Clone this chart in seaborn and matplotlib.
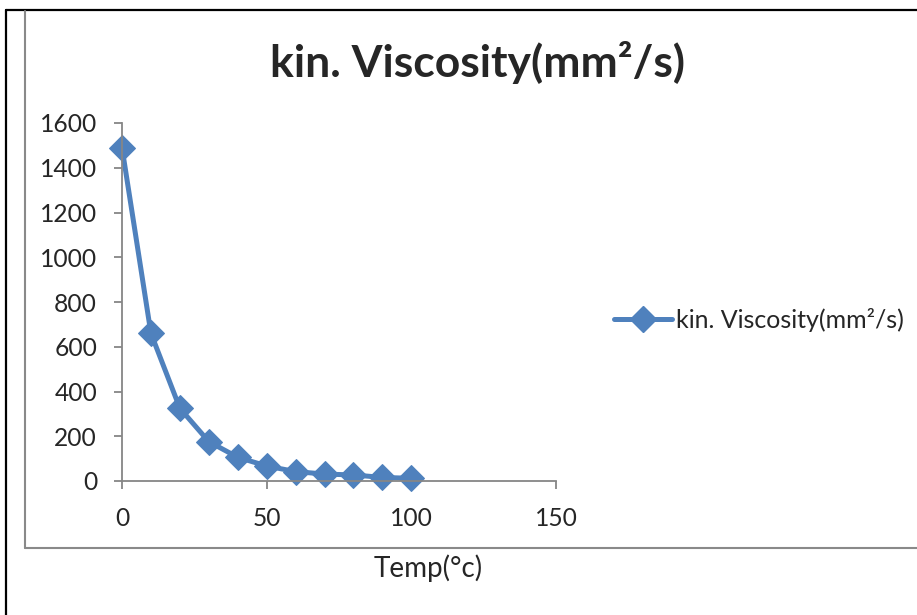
import matplotlib
matplotlib.use("Agg")
import matplotlib.pyplot as plt
from matplotlib.lines import Line2D
import seaborn as sns
import pandas as pd

temp = [0, 10, 20, 30, 40, 50, 60, 70, 80, 90, 100]
viscosity = [1490, 660, 325, 176, 106, 67, 42, 31, 27, 16, 12]
series_name = "kin. Viscosity(mm²/s)"
x_ticks = [0, 50, 100, 150]
y_ticks = [0, 200, 400, 600, 800, 1000, 1200, 1400, 1600]

sns.set_style("white")
plt.rcParams['font.family'] = ['Lato', 'DejaVu Sans']

W, H = 917, 615
fig = plt.figure(figsize=(W / 100, H / 100), dpi=100)
ax = fig.add_axes([122 / W, 1 - 481 / H, (556 - 122) / W, (481 - 123) / H])

df = pd.DataFrame({"Temp": temp, "Visc": viscosity})
blue = "#4F81BD"
sns.lineplot(data=df, x="Temp", y="Visc", ax=ax, color=blue, linewidth=3.6,
             marker="D", markersize=13, markeredgecolor=blue, clip_on=False,
             label=series_name, legend=False)

ax.set_xlim(0, 150)
ax.set_ylim(0, 1600)
ax.set_xticks(x_ticks)
ax.set_yticks(y_ticks)
ax.tick_params(axis="both", labelsize=17.7, color="#868686", length=6, width=1.3,
               direction="out", bottom=True, left=True)
ax.tick_params(axis="x", pad=13)
ax.tick_params(axis="y", pad=12)
for s in ["top", "right"]:
    ax.spines[s].set_visible(False)
for s in ["left", "bottom"]:
    ax.spines[s].set_color("#868686")
    ax.spines[s].set_linewidth(1.3)
ax.set_ylabel("")
ax.set_xlabel("Temp(°c)", fontsize=20)
ax.xaxis.set_label_coords((428 - 122) / 434, -(568 - 481) / 358)
ax.xaxis.label.set_va("center")

fig.text(478 / W, 1 - 62 / H, series_name, fontsize=32, fontweight="bold",
         ha="center", va="center")

handle = Line2D([], [], color=blue, linewidth=3.6, marker="D", markersize=13)
leg = fig.legend([handle], [series_name], loc="center left",
                 bbox_to_anchor=(614 / W, 1 - 320 / H), frameon=False,
                 fontsize=18, handlelength=2.3, handletextpad=0.2,
                 borderaxespad=0, borderpad=0)

# outer black frame
fig.add_artist(Line2D([6 / W, 1], [1 - 10 / H, 1 - 10 / H], color="black", linewidth=1.6))
fig.add_artist(Line2D([6 / W, 6 / W], [0, 1 - 10 / H], color="black", linewidth=1.6))
# inner gray frame
fig.add_artist(Line2D([25 / W, 25 / W], [1 - 548 / H, 1 - 11 / H], color="#898989", linewidth=1.5))
fig.add_artist(Line2D([25 / W, 1], [1 - 548 / H, 1 - 548 / H], color="#898989", linewidth=1.5))

fig.savefig("out.png", dpi=100)
